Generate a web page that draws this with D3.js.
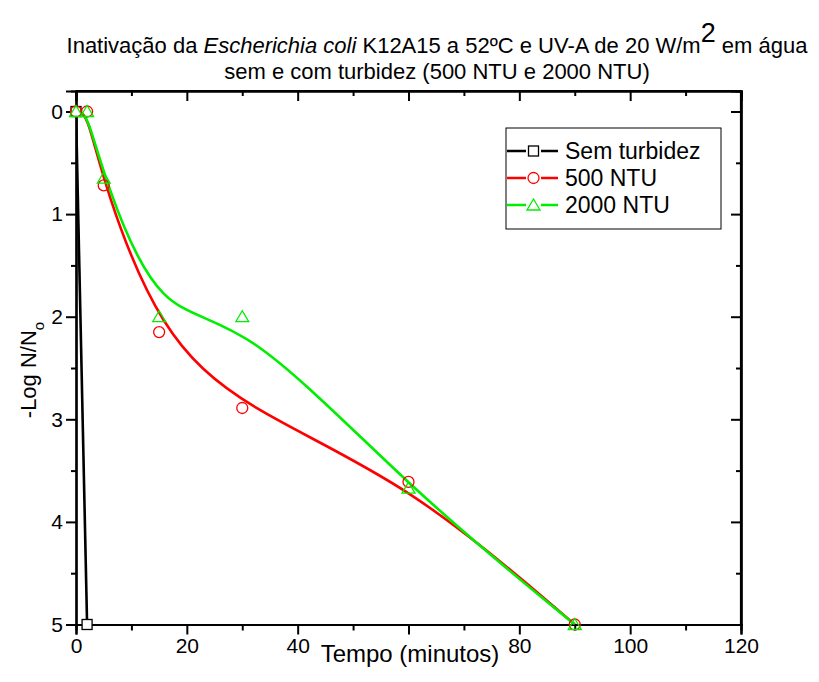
<!DOCTYPE html>
<html>
<head>
<meta charset="utf-8">
<script src="https://cdn.jsdelivr.net/npm/d3@7"></script>
<style>
  body { margin: 0; background: #fff; }
  text { font-family: "Liberation Sans", Arial, sans-serif; }
</style>
</head>
<body>
<div id="chart"></div>
<script>
// data
const tempo = [0, 2, 5, 15, 30, 60, 90];
const semTurbidezX = [0, 2];
const semTurbidezY = [0, 5];
const ntu500 = [0, 0, 0.72, 2.15, 2.89, 3.61, 5];
const ntu2000 = [0, 0, 0.65, 2.0, 2.0, 3.67, 5];
const xTicks = [0, 20, 40, 60, 80, 100, 120];
const yTicks = [0, 1, 2, 3, 4, 5];

const W = 819, H = 682;
const margin = {top: 91, right: 78, bottom: 58, left: 76};

const svg = d3.select("#chart").append("svg")
  .attr("width", W).attr("height", H);

const x = d3.scaleLinear().domain([0, 120]).range([margin.left, W - margin.right]);
const y = d3.scaleLinear().domain([-0.2, 5]).range([margin.top, H - margin.bottom + 0.5]);

const series = [
  {name: "Sem turbidez", color: "#000", sym: "square",
   pts: semTurbidezX.map((t, i) => [t, semTurbidezY[i]]), curve: d3.curveLinear},
  {name: "500 NTU", color: "#ff0000", sym: "circle",
   pts: tempo.map((t, i) => [t, ntu500[i]]), curve: d3.curveBasis},
  {name: "2000 NTU", color: "#00ee00", sym: "triangle",
   pts: tempo.map((t, i) => [t, ntu2000[i]]), curve: d3.curveBasis}
];

// clip
svg.append("clipPath").attr("id", "clip").append("rect")
  .attr("x", x(0)).attr("y", y(-0.2))
  .attr("width", x(120) - x(0)).attr("height", y(5) - y(-0.2));

// axes
const axBottom = svg.append("g")
  .attr("transform", `translate(0,${y(5)})`)
  .call(d3.axisBottom(x).tickValues(xTicks).tickSize(10).tickPadding(4).tickFormat(d3.format("d")));
axBottom.append("g").call(d3.axisBottom(x).tickValues(d3.range(10, 120, 20)).tickSize(6).tickFormat(""));

const axLeft = svg.append("g")
  .attr("transform", `translate(${x(0)},0)`)
  .call(d3.axisLeft(y).tickValues(yTicks).tickSize(10).tickPadding(3).tickFormat(d3.format("d")));
axLeft.append("g").call(d3.axisLeft(y).tickValues([0.5, 1.5, 2.5, 3.5, 4.5]).tickSize(5).tickFormat(""));

const axTop = svg.append("g")
  .attr("transform", `translate(0,${y(-0.2)})`)
  .call(d3.axisBottom(x).tickValues(xTicks).tickSize(10).tickFormat(""));
axTop.append("g").call(d3.axisBottom(x).tickValues(d3.range(10, 120, 20)).tickSize(5).tickFormat(""));

const axRight = svg.append("g")
  .attr("transform", `translate(${x(120)},0)`)
  .call(d3.axisLeft(y).tickValues(yTicks).tickSize(10).tickFormat(""));
axRight.append("g").call(d3.axisLeft(y).tickValues([0.5, 1.5, 2.5, 3.5, 4.5]).tickSize(5).tickFormat(""));

svg.selectAll(".domain").attr("stroke", "#000").attr("stroke-width", 2.2);
svg.selectAll(".tick line").attr("stroke", "#000").attr("stroke-width", 2);
svg.selectAll(".tick text").style("font-size", "21px").attr("fill", "#000");

// frame lines
svg.append("line").attr("x1", x(0)).attr("x2", x(120)).attr("y1", y(-0.2)).attr("y2", y(-0.2))
  .attr("stroke", "#000").attr("stroke-width", 2.2);
svg.append("line").attr("x1", x(120)).attr("x2", x(120)).attr("y1", y(-0.2)).attr("y2", y(5))
  .attr("stroke", "#000").attr("stroke-width", 2.2);

// curves
const plot = svg.append("g").attr("clip-path", "url(#clip)");
series.forEach(s => {
  plot.append("path")
    .datum(s.pts)
    .attr("fill", "none")
    .attr("stroke", s.color)
    .attr("stroke-width", 2.6)
    .attr("d", d3.line().x(d => x(d[0])).y(d => y(d[1])).curve(s.curve));
});

function marker(g, sym, color, cx, cy) {
  if (sym === "square") {
    g.append("rect").attr("x", cx - 5).attr("y", cy - 5).attr("width", 10).attr("height", 10)
      .attr("fill", "#fff").attr("stroke", color).attr("stroke-width", 1.3);
  } else if (sym === "circle") {
    g.append("circle").attr("cx", cx).attr("cy", cy).attr("r", 5.5)
      .attr("fill", "none").attr("stroke", color).attr("stroke-width", 1.3);
  } else {
    g.append("path").attr("d", `M${cx - 6.5},${cy + 5} L${cx},${cy - 6} L${cx + 6.5},${cy + 5} Z`)
      .attr("fill", "none").attr("stroke", color).attr("stroke-width", 1.3);
  }
}

const marks = svg.append("g");
series.forEach(s => {
  s.pts.forEach(p => marker(marks, s.sym, s.color, x(p[0]), y(p[1])));
});

// legend
const lg = svg.append("g");
lg.append("rect").attr("x", 506).attr("y", 128).attr("width", 215).attr("height", 101)
  .attr("fill", "#fff").attr("stroke", "#000").attr("stroke-width", 1);
series.forEach((s, i) => {
  const ly = 151 + i * 27;
  lg.append("line").attr("x1", 507).attr("x2", 558).attr("y1", ly).attr("y2", ly)
    .attr("stroke", s.color).attr("stroke-width", 2.6);
  lg.append("rect").attr("x", 526).attr("y", ly - 8).attr("width", 15).attr("height", 16).attr("fill", "#fff");
  marker(lg, s.sym, s.color, 533.5, ly);
  lg.append("text").attr("x", 565).attr("y", ly + 8).style("font-size", "23px").text(s.name);
});

// title
const t1 = svg.append("text").attr("x", 437).attr("y", 53).attr("text-anchor", "middle").style("font-size", "22px");
t1.append("tspan").text("Inativação da ");
t1.append("tspan").style("font-style", "italic").text("Escherichia coli");
t1.append("tspan").text(" K12A15 a 52ºC e UV-A de 20 W/m");
t1.append("tspan").attr("dy", -11).style("font-size", "27px").text("2");
t1.append("tspan").attr("dy", 11).text(" em água");
svg.append("text").attr("x", 437).attr("y", 79).attr("text-anchor", "middle").style("font-size", "22px")
  .text("sem e com turbidez (500 NTU e 2000 NTU)");

// axis labels (white backing hides the 60 label, as in the reference)
const xl = svg.append("g");
const xlt = xl.append("text").attr("x", 410).attr("y", 662).attr("text-anchor", "middle").style("font-size", "24px")
  .text("Tempo (minutos)");
const bb = xlt.node().getBBox();
xl.insert("rect", "text").attr("x", bb.x).attr("y", 636).attr("width", bb.width).attr("height", H - 636)
  .attr("fill", "#fff");

const yl = svg.append("text").attr("transform", `translate(36,370) rotate(-90)`)
  .attr("text-anchor", "middle").style("font-size", "22px");
yl.append("tspan").text("-Log N/N");
yl.append("tspan").attr("dy", 8).style("font-size", "15px").text("o");
</script>
</body>
</html>
